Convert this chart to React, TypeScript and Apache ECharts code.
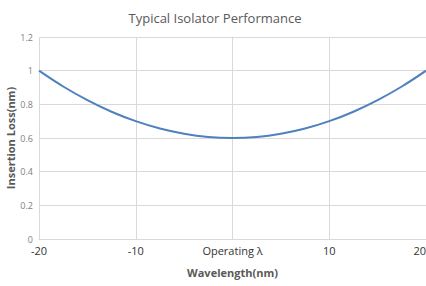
import React, { useEffect, useRef } from "react";
import * as echarts from "echarts";

const wavelengths = [-20, -17.5, -15, -12.5, -10, -7.5, -5, -2.5, 0, 2.5, 5, 7.5, 10, 12.5, 15, 17.5, 20];
const insertionLoss = [1.0, 0.906, 0.825, 0.756, 0.7, 0.656, 0.625, 0.606, 0.6, 0.606, 0.625, 0.656, 0.7, 0.756, 0.825, 0.906, 1.0];
const yTicks = [0, 0.2, 0.4, 0.6, 0.8, 1, 1.2];
const centerLabel = "Operating λ";

export default function App() {
  const ref = useRef<HTMLDivElement>(null);
  useEffect(() => {
    if (!ref.current) return;
    const chart = echarts.init(ref.current, null, { renderer: "svg" });
    chart.setOption({
      animation: false,
      title: {
        text: "Typical Isolator Performance",
        left: 210,
        textAlign: "center",
        top: 6,
        textStyle: { fontFamily: "Open Sans", fontSize: 13, fontWeight: "normal", color: "#595959" },
      },
      grid: { left: 39, right: 0, top: 37, bottom: 47, containLabel: false, outerBoundsMode: "none" },
      xAxis: {
        type: "value",
        min: -20,
        max: 20,
        interval: 10,
        name: "Wavelength(nm)",
        nameLocation: "middle",
        nameGap: 28,
        nameMoveOverlap: false,
        nameTextStyle: { fontFamily: "Open Sans", fontSize: 11, fontWeight: "bold", color: "#595959" },
        axisLine: { show: true, lineStyle: { color: "#d9d9d9", width: 1 } },
        axisTick: { show: false },
        splitLine: { show: true, lineStyle: { color: "#d9d9d9", width: 1 } },
        axisLabel: {
          margin: 6,
          fontFamily: "Open Sans",
          fontSize: 11,
          color: "#333333",
          showMaxLabel: true,
          showMinLabel: true,
          alignMaxLabel: "right",
          formatter: (v: number) => (v === 0 ? centerLabel : String(v)),
        },
      },
      yAxis: {
        type: "value",
        min: yTicks[0],
        max: yTicks[yTicks.length - 1],
        interval: 0.2,
        name: "Insertion Loss(nm)",
        nameLocation: "middle",
        nameGap: 23,
        nameMoveOverlap: false,
        nameTextStyle: { fontFamily: "Open Sans", fontSize: 11, fontWeight: "bold", color: "#595959" },
        axisLine: { show: true, lineStyle: { color: "#d9d9d9", width: 1 } },
        axisTick: { show: false },
        splitLine: { show: true, lineStyle: { color: "#d9d9d9", width: 1 } },
        axisLabel: {
          margin: 6,
          fontFamily: "Open Sans",
          fontSize: 9,
          color: "#7f7f7f",
          formatter: (v: number) => String(Math.round(v * 10) / 10),
        },
      },
      series: [
        {
          type: "line",
          data: wavelengths.map((w, i) => [w, insertionLoss[i]]),
          smooth: 0.4,
          showSymbol: false,
          lineStyle: { color: "#4f81bd", width: 2 },
        },
      ],
    });
    return () => chart.dispose();
  }, []);
  return (
    <div
      ref={ref}
      style={{ position: "fixed", left: 0, top: 0, width: 426, height: 286, background: "#fff" }}
    />
  );
}
